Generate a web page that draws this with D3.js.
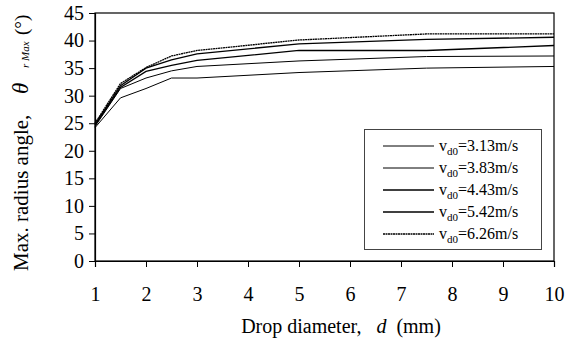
<!DOCTYPE html>
<html>
<head>
<meta charset="utf-8">
<script src="https://cdn.jsdelivr.net/npm/d3@7"></script>
<style>
  body { margin: 0; background: #fff; }
  svg { display: block; }
  text { font-family: "Liberation Serif", "DejaVu Serif", serif; fill: #000; }
</style>
</head>
<body>
<svg id="chart" width="578" height="342"></svg>
<script>
// Drop diameter d (mm)
const diameters = [1, 1.5, 2, 2.5, 3, 5, 7.5, 10];
const seriesNames = ["3.13m/s", "3.83m/s", "4.43m/s", "5.42m/s", "6.26m/s"];
const v313 = [24.2, 29.6, 31.3, 33.2, 33.2, 34.2, 35.0, 35.3];
const v383 = [24.4, 31.3, 33.2, 34.5, 35.3, 36.3, 37.1, 37.2];
const v443 = [24.6, 31.5, 34.4, 35.5, 36.4, 38.2, 38.2, 39.1];
const v542 = [24.8, 31.8, 35.0, 36.5, 37.6, 39.4, 40.2, 40.6];
const v626 = [25.0, 32.2, 35.1, 37.2, 38.2, 40.1, 41.2, 41.2];
const xTicks = [1, 2, 3, 4, 5, 6, 7, 8, 9, 10];
const yTicks = [0, 5, 10, 15, 20, 25, 30, 35, 40, 45];

const allSeries = [v313, v383, v443, v542, v626];
const widths = [1, 1, 1.3, 1.3, 1.3];
const dashes = [null, null, null, null, "2,0.5"];

const svg = d3.select("#chart");
const m = {left: 95, right: 554, top: 13, bottom: 261};

const x = d3.scaleLinear().domain([1, 10]).range([m.left, m.right]);
const y = d3.scaleLinear().domain([0, 45]).range([m.bottom, m.top]);

// frame
svg.append("rect")
  .attr("x", m.left).attr("y", m.top)
  .attr("width", m.right - m.left).attr("height", m.bottom - m.top)
  .attr("fill", "none").attr("stroke", "#000").attr("stroke-width", 1.2);

// axes
const xAxis = svg.append("g").attr("transform", `translate(0,${m.bottom})`)
  .call(d3.axisBottom(x).tickValues(xTicks).tickSize(6).tickPadding(20).tickFormat(d3.format("d")));
const yAxis = svg.append("g").attr("transform", `translate(${m.left},0)`)
  .call(d3.axisLeft(y).tickValues(yTicks).tickSize(6).tickPadding(5).tickFormat(d3.format("d")));
[xAxis, yAxis].forEach(g => {
  g.select(".domain").attr("stroke", "#000").attr("stroke-width", 1.2);
  g.selectAll(".tick line").attr("stroke", "#000").attr("stroke-width", 1);
  g.selectAll(".tick text").attr("font-size", 20);
});

// lines
const line = d3.line().x((d, i) => x(diameters[i])).y(d => y(d));
svg.append("g").selectAll("path").data(allSeries).join("path")
  .attr("d", d => line(d))
  .attr("fill", "none")
  .attr("stroke", "#000")
  .attr("stroke-width", (d, i) => widths[i])
  .attr("stroke-dasharray", (d, i) => dashes[i]);

// legend
const lg = svg.append("g");
lg.append("rect").attr("x", 364.5).attr("y", 129.5).attr("width", 177).attr("height", 120)
  .attr("fill", "#fff").attr("stroke", "#444").attr("stroke-width", 1);
seriesNames.forEach((name, i) => {
  const yy = 146 + i * 22;
  lg.append("line").attr("x1", 383).attr("x2", 434).attr("y1", yy).attr("y2", yy)
    .attr("stroke", "#000").attr("stroke-width", widths[i])
    .attr("stroke-dasharray", dashes[i]);
  const t = lg.append("text").attr("x", 439).attr("y", yy + 5).attr("font-size", 16);
  t.append("tspan").text("v");
  t.append("tspan").attr("font-size", 11).attr("dy", 4).text("d0");
  t.append("tspan").attr("dy", -4).text("=" + name);
});

// x title
const xt = svg.append("text").attr("x", 341).attr("y", 333).attr("text-anchor", "middle").attr("font-size", 20);
xt.append("tspan").text("Drop diameter,\u00a0\u00a0 ");
xt.append("tspan").attr("font-style", "italic").text("d");
xt.append("tspan").text("\u00a0 (mm)");

// y title (rotated group, x' = -y)
const yg = svg.append("g").attr("transform", "translate(28,0) rotate(-90)");
yg.append("text").attr("x", -271).attr("font-size", 21).text("Max. radius angle,");
yg.append("text").attr("x", -94).attr("font-size", 23).attr("font-style", "italic").text("θ");
yg.append("text").attr("x", -68).attr("y", 1).attr("font-size", 11).attr("font-style", "italic").text("r Max");
yg.append("text").attr("x", -35).attr("font-size", 19).text("(°)");
</script>
</body>
</html>
